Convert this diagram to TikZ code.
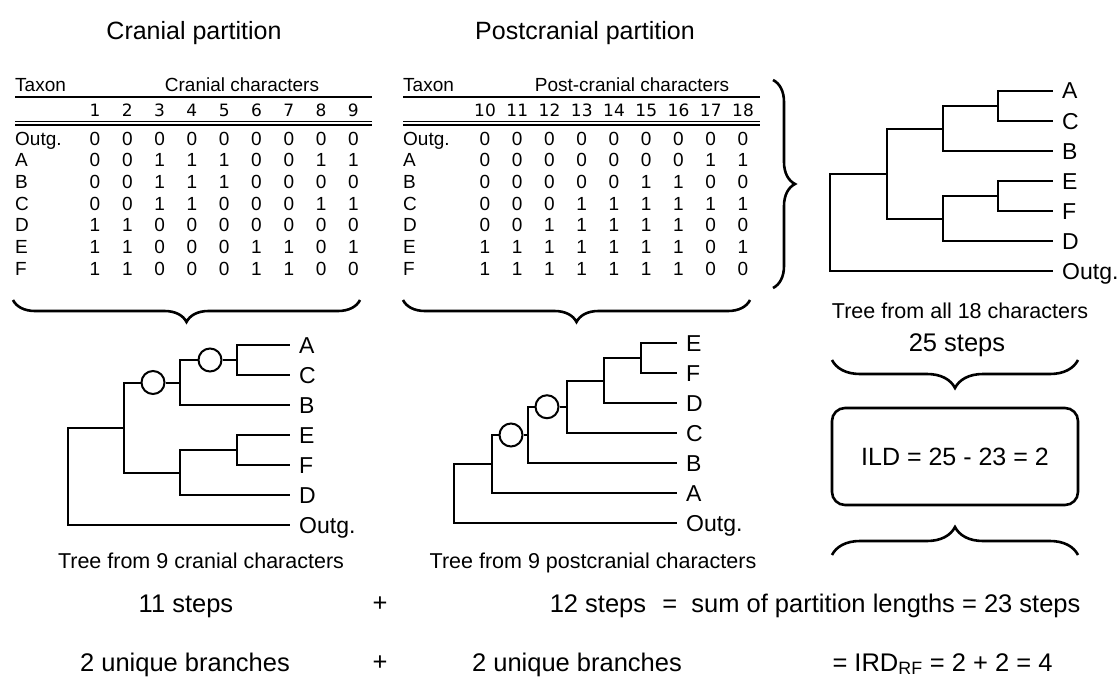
\documentclass[tikz,border=0pt]{standalone}
\usepackage{fontspec}
\setmainfont{Liberation Sans}
\newfontfamily\numfont{DejaVu Sans}
\usepackage{tikz}
\usetikzlibrary{calc,positioning,decorations.pathreplacing}
\tikzset{fontscale/.style = {font=\fontsize{#1}{#1}\selectfont}}
\tikzset{brc/.style={decorate, decoration={brace, amplitude=#1}, line width=2.6pt}, brc/.default=22}
\tikzstyle{title}=[fontscale=25, anchor=base]
\tikzstyle{cell}=[fontscale=19, anchor=base, inner sep=0pt]
\tikzstyle{rowlab}=[cell, anchor=base west]
\tikzstyle{colnum}=[font=\numfont\fontsize{17}{17}\selectfont, anchor=base, inner sep=0pt]
\tikzstyle{tip}=[anchor=west, inner xsep=9pt, inner ysep=0pt, text height=16pt, text depth=0pt, fontscale=23]
\tikzstyle{knot}=[circle, draw, fill=white, minimum size=23pt, inner sep=0pt, line width=2pt]
\tikzstyle{caption}=[fontscale=21.5, anchor=base]
\tikzstyle{sumtext}=[fontscale=25.5, anchor=base]

\begin{document}
\begin{tikzpicture}[x=1pt, y=-1pt, branch/.style={line width=2pt}, rule/.style={line width=1.6pt}]
\path[use as bounding box, fill=white] (0,0) rectangle (1120,677);

% Titles
\node[title] (tcran) at (194,40) {Cranial partition};
\node[title] (tpost) at (585,40) {Postcranial partition};

% Cranial table
\node[rowlab] (hcx) at (15,92) {Taxon};
\node[cell] (hcc) at (242,92) {Cranial characters};
\draw[line width=2.2pt] (15,97) -- (372,97);
\foreach \c in {1,...,9}
  \node[colnum] (hc\c) at ({95+32.3*(\c-1)},117) {\c};
\draw[rule] (15,121.5) -- (372,121.5);
\draw[rule] (15,125) -- (372,125);
\foreach \lab/\vals [count=\r] in {Outg./{0,0,0,0,0,0,0,0,0}, A/{0,0,1,1,1,0,0,1,1},
    B/{0,0,1,1,1,0,0,0,0}, C/{0,0,1,1,0,0,0,1,1}, D/{1,1,0,0,0,0,0,0,0},
    E/{1,1,0,0,0,1,1,0,1}, F/{1,1,0,0,0,1,1,0,0}} {
  \node[rowlab] (rc\r) at (15,{145+21.67*(\r-1)}) {\lab};
  \foreach \v [count=\c] in \vals
    \node[cell] (cc\r-\c) at ({95+32.3*(\c-1)},{145+21.67*(\r-1)}) {\v};
}

% Postcranial table
\node[rowlab] (hpx) at (403,92) {Taxon};
\node[cell] (hpc) at (632,92) {Post-cranial characters};
\draw[line width=2.2pt] (403,97) -- (760,97);
\foreach \c [count=\i] in {10,...,18}
  \node[colnum] (hp\c) at ({485+32.25*(\i-1)},117) {\c};
\draw[rule] (403,121.5) -- (760,121.5);
\draw[rule] (403,125) -- (760,125);
\foreach \lab/\vals [count=\r] in {Outg./{0,0,0,0,0,0,0,0,0}, A/{0,0,0,0,0,0,0,1,1},
    B/{0,0,0,0,0,1,1,0,0}, C/{0,0,0,1,1,1,1,1,1}, D/{0,0,1,1,1,1,1,0,0},
    E/{1,1,1,1,1,1,1,0,1}, F/{1,1,1,1,1,1,1,0,0}} {
  \node[rowlab] (rp\r) at (403,{145+21.67*(\r-1)}) {\lab};
  \foreach \v [count=\c] in \vals
    \node[cell] (pc\r-\c) at ({485+32.25*(\c-1)},{145+21.67*(\r-1)}) {\v};
}

% Braces
\draw[brc] (360,300) -- (13,300);
\draw[brc] (750,300) -- (403,300);
\draw[brc] (773,80) -- (773,288);
\draw[brc=28] (1078,360) -- (832,360);
\draw[brc=28] (832,555) -- (1078,555);

% Tree from all characters
\coordinate (ar) at (830,222);
\coordinate (ag) at (887,173.5);
\coordinate (an1) at (943,128.5);
\coordinate (an3) at (998,106);
\coordinate (an2) at (943,218.5);
\coordinate (an4) at (998,196);
\node[tip] (aA) at (1053,91) {A};
\node[tip] (aC) at (1053,121) {C};
\node[tip] (aB) at (1053,151) {B};
\node[tip] (aE) at (1053,181) {E};
\node[tip] (aF) at (1053,211) {F};
\node[tip] (aD) at (1053,241) {D};
\node[tip] (aO) at (1053,271) {Outg.};
\draw[branch] (ar) |- (ag);  \draw[branch] (ar) |- (aO.west);
\draw[branch] (ag) |- (an1); \draw[branch] (ag) |- (an2);
\draw[branch] (an1) |- (an3); \draw[branch] (an1) |- (aB.west);
\draw[branch] (an3) |- (aA.west); \draw[branch] (an3) |- (aC.west);
\draw[branch] (an2) |- (an4); \draw[branch] (an2) |- (aD.west);
\draw[branch] (an4) |- (aE.west); \draw[branch] (an4) |- (aF.west);
\node[caption] (acap) at (960,318) {Tree from all 18 characters};
\node[sumtext] (asteps) at (957,351) {25 steps};

% ILD box
\node[draw, line width=2.6pt, rounded corners=13pt, minimum width=246pt, minimum height=97pt, fontscale=25] (ild) at (955,456.5) {ILD = 25 - 23 = 2};

% Cranial tree
\coordinate (cr) at (68,476);
\coordinate (cg) at (124,427.5);
\coordinate (cn1) at (180,382.5);
\coordinate (cn3) at (237,360);
\coordinate (cn2) at (180,472.5);
\coordinate (cn4) at (237,450);
\node[knot] (cu1) at (153,382.5) {};
\node[knot] (cu2) at (210,360) {};
\node[tip] (cA) at (290,345) {A};
\node[tip] (cC) at (290,375) {C};
\node[tip] (cB) at (290,405) {B};
\node[tip] (cE) at (290,435) {E};
\node[tip] (cF) at (290,465) {F};
\node[tip] (cD) at (290,495) {D};
\node[tip] (cO) at (290,525) {Outg.};
\draw[branch] (cr) |- (cg);  \draw[branch] (cr) |- (cO.west);
\draw[branch] (cg) |- (cu1); \draw[branch] (cu1) -- (cn1);
\draw[branch] (cg) |- (cn2);
\draw[branch] (cn1) |- (cu2); \draw[branch] (cu2) -- (cn3);
\draw[branch] (cn1) |- (cB.west);
\draw[branch] (cn3) |- (cA.west); \draw[branch] (cn3) |- (cC.west);
\draw[branch] (cn2) |- (cn4); \draw[branch] (cn2) |- (cD.west);
\draw[branch] (cn4) |- (cE.west); \draw[branch] (cn4) |- (cF.west);
\node[caption] (ccap) at (201,568) {Tree from 9 cranial characters};

% Postcranial tree
\coordinate (pr) at (454,494);
\coordinate (pn1) at (492,464);
\coordinate (pn2) at (528,435);
\coordinate (pn3) at (567,406.75);
\coordinate (pn4) at (604,380.5);
\coordinate (pn5) at (641,358);
\node[knot] (pu1) at (511,435) {};
\node[knot] (pu2) at (547,406.75) {};
\node[tip] (pE) at (677,343) {E};
\node[tip] (pF) at (677,373) {F};
\node[tip] (pD) at (677,403) {D};
\node[tip] (pC) at (677,433) {C};
\node[tip] (pB) at (677,463) {B};
\node[tip] (pA) at (677,493) {A};
\node[tip] (pO) at (677,523) {Outg.};
\draw[branch] (pr) |- (pn1); \draw[branch] (pr) |- (pO.west);
\draw[branch] (pn1) |- (pu1); \draw[branch] (pu1) -- (pn2);
\draw[branch] (pn1) |- (pA.west);
\draw[branch] (pn2) |- (pu2); \draw[branch] (pu2) -- (pn3);
\draw[branch] (pn2) |- (pB.west);
\draw[branch] (pn3) |- (pn4); \draw[branch] (pn3) |- (pC.west);
\draw[branch] (pn4) |- (pn5); \draw[branch] (pn4) |- (pD.west);
\draw[branch] (pn5) |- (pE.west); \draw[branch] (pn5) |- (pF.west);
\node[caption] (pcap) at (593,568) {Tree from 9 postcranial characters};

% Sums
\node[sumtext] (s1) at (186,612) {11 steps};
\node[sumtext] (s2) at (380,611) {+};
\node[sumtext] (s3) at (598,612) {12 steps};
\node[sumtext, anchor=base east] (s4) at (1084,612) {= \ sum of partition lengths = 23 steps};
\node[sumtext] (b1) at (185,671) {2 unique branches};
\node[sumtext] (b2) at (380,670) {+};
\node[sumtext] (b3) at (577,671) {2 unique branches};
\node[sumtext, anchor=base west] (b4) at (829,671) {= IRD\textsubscript{RF} = 2 + 2 = 4};
\end{tikzpicture}
\end{document}
